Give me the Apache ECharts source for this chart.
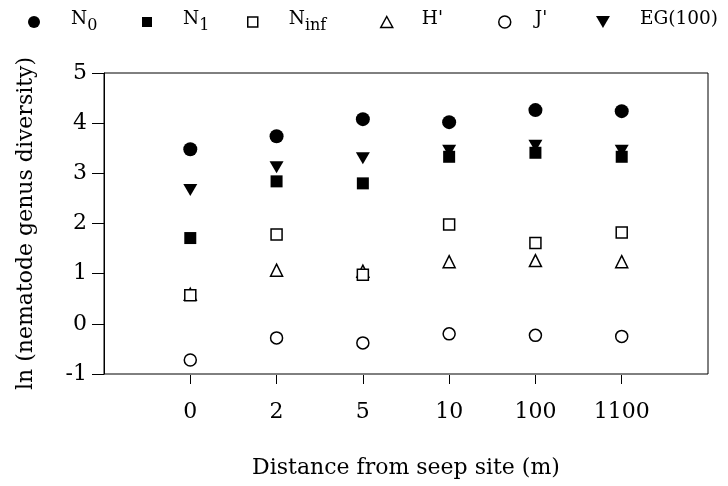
<!DOCTYPE html>
<html>
<head>
<meta charset="utf-8">
<script src="https://cdn.jsdelivr.net/npm/echarts@6/dist/echarts.min.js"></script>
<style>
html,body{margin:0;padding:0;background:#fff;}
#chart{width:728px;height:486px;}
</style>
</head>
<body>
<div id="chart"></div>
<script>
// ---- data ----
const categories = ['0', '2', '5', '10', '100', '1100'];
const N0     = [3.48, 3.74, 4.08, 4.02, 4.26, 4.24];
const N1     = [1.71, 2.84, 2.80, 3.33, 3.41, 3.33];
const Ninf   = [0.57, 1.78, 0.98, 1.98, 1.61, 1.82];
const Hprime = [0.59, 1.07, 1.05, 1.24, 1.26, 1.24];
const Jprime = [-0.72, -0.28, -0.38, -0.20, -0.23, -0.25];
const EG100  = [2.67, 3.12, 3.30, 3.45, 3.55, 3.45];
const yTicks = [-1, 0, 1, 2, 3, 4, 5];
const seriesNames = ['N0', 'N1', 'Ninf', "H'", "J'", 'EG(100)'];

// ---- styling ----
const FONT = 'DejaVu Serif';
const black = '#000';
const downTri = 'path://M0,0L10,0L5,8.6Z';

const styles = {
  'N0':      {symbol: 'circle', size: 14, item: {color: black, opacity: 1}, z: 2},
  'N1':      {symbol: 'rect', size: 12, item: {color: black, opacity: 1}, z: 2},
  'Ninf':    {symbol: 'rect', size: 11, item: {color: '#fff', borderColor: black, borderWidth: 1.5, opacity: 1}, z: 4},
  "H'":      {symbol: 'triangle', size: 12, item: {color: '#fff', borderColor: black, borderWidth: 1.5, opacity: 1}, z: 3},
  "J'":      {symbol: 'circle', size: 12, item: {color: '#fff', borderColor: black, borderWidth: 1.5, opacity: 1}, z: 2},
  'EG(100)': {symbol: downTri, size: [14, 12], item: {color: black, opacity: 1}, z: 2}
};
const values = {'N0': N0, 'N1': N1, 'Ninf': Ninf, "H'": Hprime, "J'": Jprime, 'EG(100)': EG100};

// legend layout: icon left, icon size, gap to text, text parts
const legendLayout = [
  {name: 'N0', left: 23, w: 12, h: 12, icon: 'circle', gap: 26, main: 'N', sub: '0'},
  {name: 'N1', left: 137, w: 10, h: 10, icon: 'rect', gap: 26, main: 'N', sub: '1'},
  {name: 'Ninf', left: 242, w: 10, h: 10, icon: 'rect', gap: 26, main: 'N', sub: 'inf'},
  {name: "H'", left: 375, w: 12, h: 11, icon: 'triangle', gap: 24, main: "H'", sub: ''},
  {name: "J'", left: 493, w: 12, h: 12, icon: 'circle', gap: 19, main: "J'", sub: ''},
  {name: 'EG(100)', left: 591, w: 14, h: 12, icon: downTri, gap: 25, main: 'EG(100)', sub: ''}
];

const legends = legendLayout.map(l => ({
  left: l.left,
  top: 5,
  itemWidth: l.w,
  itemHeight: l.h,
  selectedMode: false,
  data: [{name: l.name, icon: l.icon, itemStyle: Object.assign({}, styles[l.name].item)}],
  formatter: () => '{gap|}{m|' + l.main + '}' + (l.sub ? '{s|' + l.sub + '}' : ''),
  textStyle: {
    fontFamily: FONT,
    color: black,
    rich: {
      gap: {width: l.gap, lineHeight: 24},
      m: {fontFamily: FONT, fontSize: 18.5, lineHeight: 20, verticalAlign: 'top', color: black},
      s: {fontFamily: FONT, fontSize: 16, lineHeight: 20, verticalAlign: 'bottom', color: black}
    }
  }
}));

const series = seriesNames.map(name => ({
  name: name,
  type: 'scatter',
  symbol: styles[name].symbol,
  symbolSize: styles[name].size,
  itemStyle: styles[name].item,
  z: styles[name].z,
  data: values[name].map((v, i) => [i, v])
}));

const chart = echarts.init(document.getElementById('chart'), null, {renderer: 'canvas'});
chart.setOption({
  animation: false,
  backgroundColor: '#fff',
  legend: legends,
  grid: {
    left: 104, right: 20, top: 73, bottom: 112,
    show: true, borderColor: black, borderWidth: 1, backgroundColor: 'transparent'
  },
  xAxis: {
    type: 'value',
    min: -1, max: 6, interval: 1,
    offset: 1,
    name: 'Distance from seep site (m)',
    nameLocation: 'middle',
    nameGap: 82,
    nameTextStyle: {fontFamily: FONT, fontSize: 22, color: black},
    axisLine: {show: false, onZero: false},
    axisTick: {show: true, length: 9, lineStyle: {color: black, width: 1},
               customValues: categories.map((c, i) => i)},
    axisLabel: {fontFamily: FONT, fontSize: 22, color: black, margin: 26,
                customValues: categories.map((c, i) => i),
                formatter: v => categories[v] !== undefined ? categories[v] : ''},
    splitLine: {show: false}
  },
  yAxis: {
    type: 'value',
    min: yTicks[0], max: yTicks[yTicks.length - 1], interval: 1,
    name: 'ln (nematode genus diversity)',
    nameLocation: 'middle',
    nameGap: 67,
    nameTextStyle: {fontFamily: FONT, fontSize: 22, color: black},
    axisLine: {show: true, onZero: false, lineStyle: {color: black, width: 1}},
    axisTick: {show: true, length: 12, lineStyle: {color: black, width: 1}},
    axisLabel: {fontFamily: FONT, fontSize: 22, color: black, margin: 17},
    splitLine: {show: false}
  },
  series: series
});
</script>
</body>
</html>
